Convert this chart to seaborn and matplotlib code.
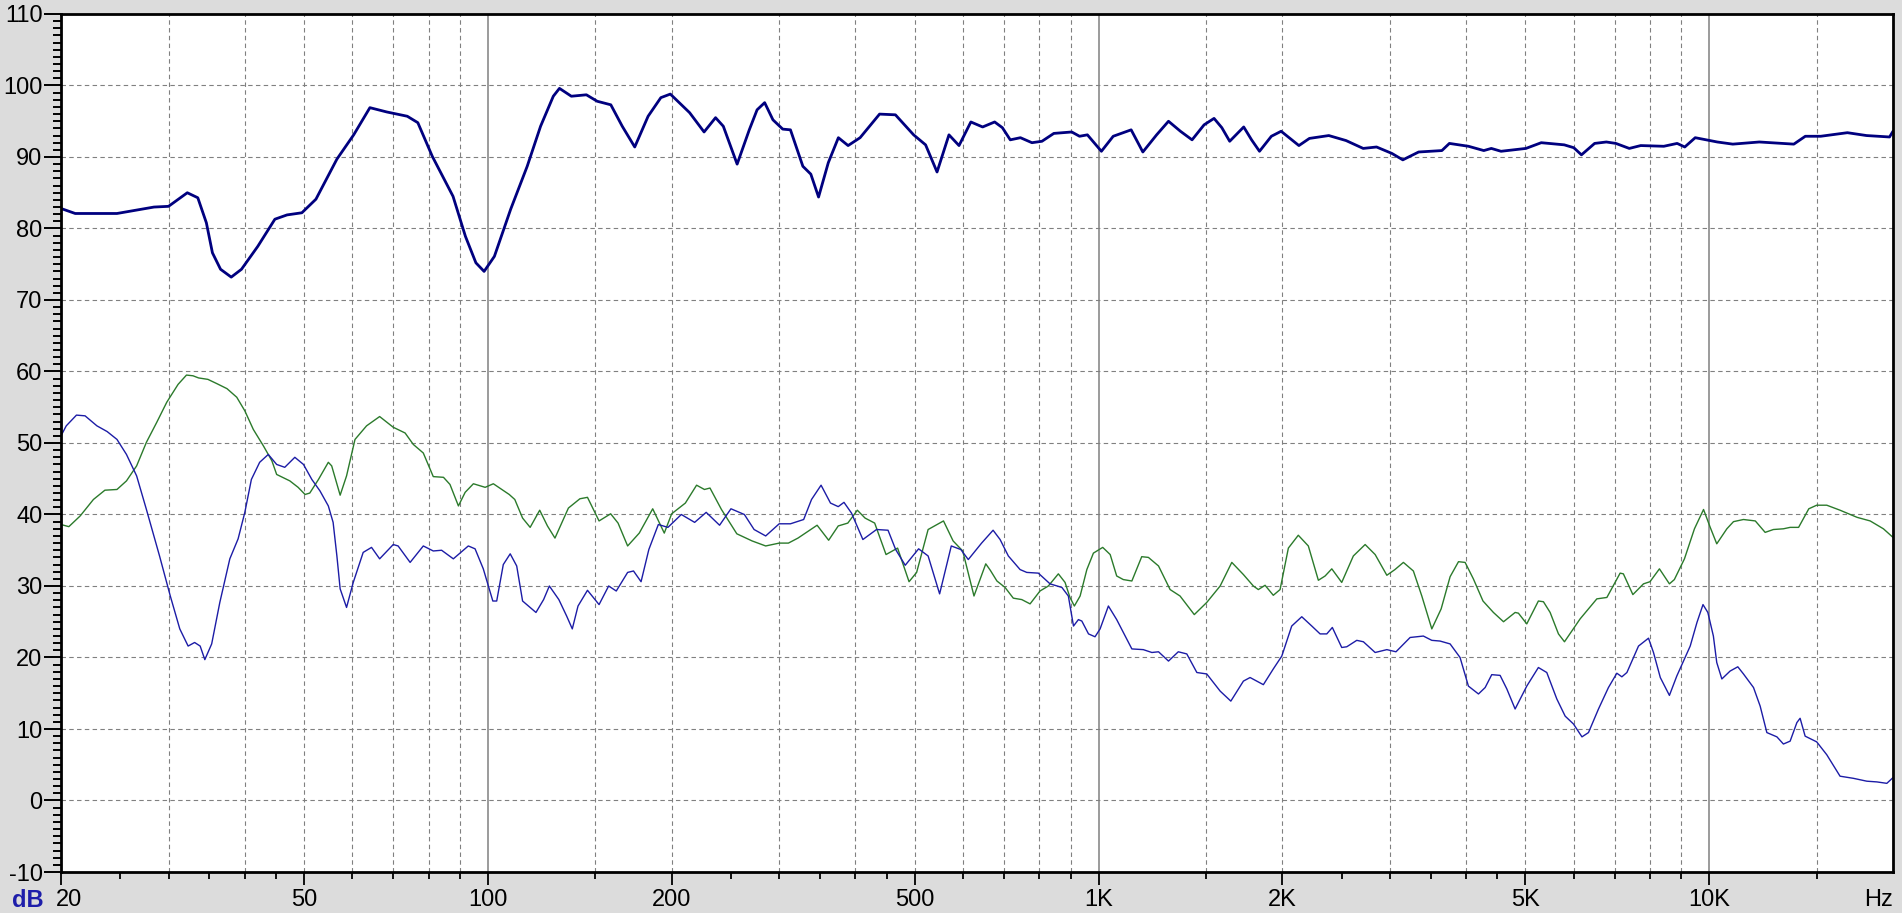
import matplotlib
matplotlib.use("Agg")
import matplotlib.pyplot as plt
import matplotlib.transforms as mtransforms
from matplotlib.ticker import FixedLocator, FixedFormatter, MultipleLocator, NullFormatter
import pandas as pd
import seaborn as sns

# ---------------- data ----------------
freq_top = [20, 21.1, 24.7, 26.7, 28.4, 30.0, 32.2, 33.5, 34.6, 35.4,
            36.5, 38.0, 39.5, 42.0, 44.8, 46.9, 49.6, 52.3, 56.6, 60.3,
            64.1, 68.3, 73.8, 76.8, 81.1, 87.7, 91.9, 95.6, 98.6, 102.5,
            109, 116, 122, 128, 131, 137, 145, 151, 159, 166,
            174, 183, 192, 199, 214, 226, 236, 243, 256, 268,
            276, 284, 293, 304, 313, 328, 338, 348, 361, 375,
            389, 407, 438, 465, 498, 521, 544, 569, 591, 618,
            646, 676, 696, 717, 745, 778, 808, 845, 904, 931,
            959, 1011, 1057, 1131, 1182, 1245, 1302, 1362, 1423, 1489,
            1546, 1592, 1640, 1729, 1781, 1835, 1919, 1991, 2129, 2215,
            2383, 2543, 2713, 2853, 3023, 3150, 3344, 3650, 3755, 4035,
            4275, 4398, 4562, 5011, 5309, 5790, 6002, 6178, 6493, 6786,
            7034, 7399, 7726, 8427, 8862, 9121, 9488, 10310, 10930, 12080,
            13760, 14370, 15230, 16840, 18100, 19740, 20000]
spl_top = [82.8, 82.1, 82.1, 82.6, 83.0, 83.1, 85.0, 84.3, 80.8, 76.6,
           74.3, 73.2, 74.3, 77.5, 81.3, 81.9, 82.2, 84.1, 89.7, 93.1,
           96.9, 96.3, 95.7, 94.8, 90.1, 84.5, 78.9, 75.2, 74.0, 76.1,
           82.7, 88.7, 94.3, 98.5, 99.6, 98.5, 98.7, 97.8, 97.3, 94.3,
           91.4, 95.7, 98.3, 98.8, 96.2, 93.5, 95.5, 94.3, 89.0, 93.8,
           96.6, 97.6, 95.2, 93.9, 93.8, 88.7, 87.6, 84.4, 89.2, 92.7,
           91.6, 92.7, 96.0, 95.9, 93.1, 91.7, 87.9, 93.1, 91.6, 94.9,
           94.2, 94.9, 94.1, 92.4, 92.7, 92.0, 92.2, 93.3, 93.5, 92.9,
           93.1, 90.8, 92.9, 93.8, 90.7, 93.1, 95.0, 93.6, 92.4, 94.5,
           95.4, 94.1, 92.2, 94.2, 92.4, 90.8, 92.9, 93.6, 91.6, 92.6,
           93.0, 92.3, 91.2, 91.4, 90.5, 89.6, 90.7, 90.9, 91.9, 91.5,
           90.9, 91.2, 90.8, 91.2, 92.0, 91.7, 91.3, 90.3, 91.9, 92.1,
           91.9, 91.2, 91.6, 91.5, 91.9, 91.4, 92.7, 92.1, 91.8, 92.1,
           91.8, 92.9, 92.9, 93.4, 93.0, 92.8, 93.6]

freq_blue = [20.0, 20.4, 21.2, 21.9, 22.9, 23.8, 24.7, 25.6, 26.6, 27.6,
             29.0, 30.2, 31.3, 32.3, 33.1, 33.8, 34.4, 35.3, 36.4, 37.8,
             39.0, 40.0, 41.0, 42.3, 43.7, 45.1, 46.5, 48.3, 49.9, 51.5,
             53.1, 54.8, 55.8, 56.6, 57.3, 58.7, 60.2, 62.5, 64.5, 66.5,
             70.0, 71.3, 74.6, 78.4, 81.4, 84.0, 87.8, 92.9, 95.3, 98.3,
             101.9, 103.4, 106, 108.8, 111.5, 114, 119.9, 123.4, 126.1, 130.7,
             134.6, 137.5, 140.5, 145.6, 152.1, 157.7, 162.3, 169.4, 173.2, 178.2,
             183.5, 190.2, 197.2, 207.4, 218.1, 227.8, 239.6, 250.1, 263.1, 272.9,
             285.1, 300, 313, 329, 338.9, 351.3, 364, 374.8, 383, 394,
             411.3, 433, 452.2, 465.4, 482.5, 507.5, 526, 549.3, 574, 595,
             612, 643.5, 672, 690, 711.8, 744, 763, 797, 833, 871,
             892.5, 910, 927, 939, 963, 987, 1006, 1038, 1071, 1134,
             1184, 1223, 1254, 1302, 1351, 1395, 1449, 1504, 1582, 1647,
             1727, 1771, 1862, 1933, 1996, 2072, 2152, 2235, 2306, 2365,
             2415, 2502, 2550, 2648, 2715, 2838, 2966, 3070, 3238, 3404,
             3514, 3625, 3765, 3909, 4034, 4190, 4297, 4405, 4546, 4663,
             4811, 5027, 5252, 5421, 5630, 5810, 5995, 6190, 6344, 6588,
             6840, 7060, 7195, 7333, 7661, 7955, 8106, 8317, 8608, 8850,
             9310, 9550, 9770, 9950, 10160, 10290, 10490, 10820, 11140, 11380,
             11820, 12120, 12430, 12910, 13230, 13570, 13920, 14090, 14360, 15000,
             15580, 16380, 17230, 18120, 18820, 19540, 20000]
spl_blue = [51.0, 52.4, 53.9, 53.8, 52.4, 51.6, 50.5, 48.4, 45.4, 40.7,
            34.2, 28.6, 24.0, 21.6, 22.1, 21.6, 19.7, 21.9, 27.7, 33.8,
            36.6, 40.3, 44.9, 47.3, 48.4, 47.0, 46.6, 48.0, 47.0, 44.9,
            43.3, 41.2, 38.9, 34.2, 29.6, 27.0, 30.5, 34.7, 35.4, 33.8,
            35.8, 35.6, 33.3, 35.6, 34.9, 35.0, 33.8, 35.6, 35.2, 32.4,
            27.9, 27.9, 33.0, 34.5, 32.8, 27.9, 26.3, 28.1, 30.0, 28.1,
            25.8, 24.0, 27.2, 29.4, 27.4, 30.0, 29.3, 31.9, 32.1, 30.6,
            35.1, 38.6, 38.2, 40.0, 38.9, 40.3, 38.5, 40.8, 40.0, 37.9,
            37.0, 38.7, 38.7, 39.3, 42.1, 44.1, 41.6, 41.1, 41.7, 40.2,
            36.5, 37.9, 37.8, 35.1, 32.9, 35.2, 34.2, 28.9, 35.6, 35.1,
            33.7, 36.0, 37.8, 36.5, 34.2, 32.3, 31.9, 31.8, 30.3, 29.8,
            28.6, 24.4, 25.3, 25.1, 23.3, 22.9, 24.0, 27.2, 25.3, 21.2,
            21.1, 20.7, 20.8, 19.5, 20.8, 20.5, 17.9, 17.7, 15.3, 13.9,
            16.7, 17.2, 16.2, 18.4, 20.2, 24.4, 25.7, 24.4, 23.3, 23.3,
            24.2, 21.4, 21.5, 22.4, 22.2, 20.7, 21.1, 20.8, 22.8, 23.0,
            22.4, 22.3, 21.9, 20.0, 16.0, 14.9, 15.8, 17.6, 17.5, 15.6,
            12.8, 16.0, 18.6, 17.9, 14.2, 11.8, 10.7, 8.9, 9.5, 12.8,
            15.8, 17.8, 17.3, 17.9, 21.6, 22.7, 20.7, 17.2, 14.7, 17.4,
            21.6, 24.9, 27.4, 26.3, 23.0, 19.3, 17.0, 18.1, 18.7, 17.7,
            15.8, 13.2, 9.5, 8.9, 7.9, 8.3, 10.9, 11.5, 9.0, 8.2,
            6.4, 3.4, 3.1, 2.7, 2.6, 2.4, 3.2]

freq_green = [20.0, 20.6, 21.5, 22.6, 23.6, 24.7, 25.6, 26.6, 27.6, 28.7,
              29.8, 31.1, 32.1, 32.9, 33.6, 34.8, 36.0, 37.4, 38.8, 40.0,
              41.3, 42.9, 44.3, 45.1, 47.4, 48.9, 50.2, 51.1, 52.8, 54.8,
              55.5, 57.3, 58.7, 60.6, 63.3, 66.5, 70.0, 73.2, 75.5, 78.4,
              81.4, 84.6, 86.7, 89.5, 91.8, 94.7, 99.0, 102.1, 108.4, 110.7,
              114, 117.3, 121.6, 125.2, 128.8, 135.5, 141.5, 145.6, 152.1, 158.9,
              163.4, 169.4, 177, 186.2, 194.5, 200, 210.6, 219.7, 226.3, 231.1,
              241.3, 255.7, 270.9, 285.1, 300, 310.6, 322, 346.1, 361.5, 374.8,
              388.6, 402.8, 414.7, 430, 448.8, 468.8, 489.5, 503.7, 526, 557.4,
              578, 599.3, 625.3, 653.7, 665, 681.8, 703, 725.2, 748.8, 772.6,
              802, 827.7, 859.5, 881.5, 898, 913, 933, 957, 981, 1016,
              1045, 1071, 1098, 1134, 1177, 1207, 1254, 1310, 1360, 1435,
              1504, 1582, 1653, 1727, 1793, 1827, 1874, 1933, 1983, 2046,
              2124, 2206, 2291, 2350, 2410, 2502, 2614, 2733, 2838, 2966,
              3058, 3157, 3278, 3384, 3514, 3640, 3765, 3886, 3984, 4110,
              4262, 4433, 4605, 4811, 4871, 5027, 5252, 5353, 5490, 5665,
              5795, 6147, 6547, 6800, 7148, 7236, 7500, 7806, 8000, 8290,
              8608, 8770, 9110, 9460, 9790, 10040, 10290, 10690, 10960, 11380,
              11900, 12350, 12740, 13230, 13570, 14010, 14560, 15000, 15580, 16380,
              17470, 18350, 19290, 20000]
spl_green = [38.6, 38.3, 39.8, 42.1, 43.4, 43.5, 44.7, 46.8, 50.1, 52.9,
             55.7, 58.2, 59.5, 59.4, 59.1, 58.9, 58.3, 57.6, 56.4, 54.5,
             51.9, 49.6, 47.5, 45.6, 44.7, 43.8, 42.8, 43.0, 44.9, 47.3,
             46.8, 42.7, 45.4, 50.5, 52.4, 53.7, 52.2, 51.4, 49.8, 48.6,
             45.3, 45.2, 44.2, 41.2, 43.1, 44.3, 43.8, 44.3, 42.8, 42.1,
             39.5, 38.2, 40.6, 38.4, 36.7, 40.9, 42.2, 42.4, 39.1, 40.1,
             38.8, 35.6, 37.4, 40.8, 37.4, 40.1, 41.6, 44.1, 43.5, 43.7,
             40.7, 37.3, 36.3, 35.6, 36.0, 36.0, 36.7, 38.5, 36.4, 38.4,
             38.8, 40.6, 39.5, 38.8, 34.4, 35.3, 30.6, 31.9, 37.9, 39.1,
             36.3, 34.9, 28.6, 33.1, 32.2, 30.7, 29.8, 28.3, 28.1, 27.5,
             29.3, 30.0, 31.7, 30.5, 28.4, 27.2, 28.6, 32.3, 34.6, 35.4,
             34.4, 31.4, 30.9, 30.7, 34.1, 34.0, 32.8, 29.5, 28.6, 26.0,
             27.7, 30.0, 33.3, 31.6, 30.0, 29.5, 30.1, 28.7, 29.5, 35.3,
             37.1, 35.6, 30.8, 31.4, 32.4, 30.5, 34.2, 35.8, 34.4, 31.5,
             32.3, 33.3, 32.1, 28.6, 24.0, 26.8, 31.3, 33.4, 33.3, 31.0,
             27.9, 26.3, 25.0, 26.3, 26.2, 24.7, 27.9, 27.8, 26.3, 23.3,
             22.2, 25.4, 28.2, 28.4, 31.8, 31.7, 28.8, 30.3, 30.6, 32.4,
             30.3, 30.9, 33.8, 38.0, 40.7, 38.2, 35.9, 38.0, 39.0, 39.3,
             39.1, 37.5, 37.9, 38.0, 38.2, 38.2, 40.8, 41.3, 41.3, 40.6,
             39.6, 39.1, 38.0, 36.8]

x_tick_values = [20, 50, 100, 200, 500, 1000, 2000, 5000, 10000]
x_tick_labels = ["20", "50", "100", "200", "500", "1K", "2K", "5K", "10K"]
x_minor_ticks = [25, 30, 35, 40, 45, 60, 70, 80, 90,
                 150, 250, 300, 350, 400, 450, 600, 700, 800, 900,
                 1500, 2500, 3000, 3500, 4000, 4500, 6000, 7000, 8000, 9000,
                 15000]
x_dashed_grid = [30, 40, 50, 60, 70, 80, 90,
                 150, 200, 300, 400, 500, 600, 700, 800, 900,
                 1500, 2000, 3000, 4000, 5000, 6000, 7000, 8000, 9000,
                 15000]
x_solid_grid = [100, 1000, 10000]
y_tick_values = [-10, 0, 10, 20, 30, 40, 50, 60, 70, 80, 90, 100, 110]
y_tick_labels = ["-10", "0", "10", "20", "30", "40", "50", "60", "70", "80", "90", "100", "110"]
y_dashed_grid = [0, 10, 20, 30, 40, 50, 60, 70, 80, 90, 100]

# ---------------- style ----------------
sns.set_style("white")
plt.rcParams["font.family"] = ["Liberation Sans", "DejaVu Sans"]
plt.rcParams["axes.unicode_minus"] = False

FS = 17
BG = "#dcdcdc"
fig = plt.figure(figsize=(19.02, 9.13), dpi=100, facecolor=BG)
ax = fig.add_axes([61 / 1902, 1 - 872 / 913, (1893 - 61) / 1902, (872 - 14) / 913])
ax.set_facecolor("white")
ax.set_xscale("log")

grid_col = "#808080"
for f in x_dashed_grid:
    ax.axvline(f, color=grid_col, lw=0.8, ls=(0, (4, 3)), zorder=1)
for f in x_solid_grid:
    ax.axvline(f, color=grid_col, lw=1.1, ls="-", zorder=1)
for v in y_dashed_grid:
    ax.axhline(v, color=grid_col, lw=0.8, ls=(0, (4, 3)), zorder=1)

df_top = pd.DataFrame({"freq": freq_top, "spl": spl_top})
df_blue = pd.DataFrame({"freq": freq_blue, "spl": spl_blue})
df_green = pd.DataFrame({"freq": freq_green, "spl": spl_green})

sns.lineplot(data=df_green, x="freq", y="spl", ax=ax, color="#2b7a2b",
             linewidth=1.0, estimator=None, legend=False, zorder=2)
sns.lineplot(data=df_blue, x="freq", y="spl", ax=ax, color="#1c1ca6",
             linewidth=1.0, estimator=None, legend=False, zorder=2.1)
sns.lineplot(data=df_top, x="freq", y="spl", ax=ax, color="#00007f",
             linewidth=2.0, estimator=None, legend=False, zorder=2.2)

ax.set_xlim(20, 20000)
ax.set_ylim(-10, 110)
ax.set_xlabel("")
ax.set_ylabel("")

ax.xaxis.set_major_locator(FixedLocator(x_tick_values))
ax.xaxis.set_major_formatter(FixedFormatter(x_tick_labels))
ax.xaxis.set_minor_locator(FixedLocator(x_minor_ticks))
ax.xaxis.set_minor_formatter(NullFormatter())
ax.yaxis.set_major_locator(FixedLocator(y_tick_values))
ax.yaxis.set_major_formatter(FixedFormatter(y_tick_labels))
ax.yaxis.set_minor_locator(MultipleLocator(1))

ax.tick_params(axis="x", which="major", direction="out", length=9.5, width=1.3,
               color="black", pad=2.5, labelsize=FS, labelcolor="black", bottom=True)
ax.tick_params(axis="x", which="minor", direction="out", length=4.8, width=1.3,
               color="black", bottom=True)
ax.tick_params(axis="y", which="major", direction="out", length=12.3, width=1.4,
               color="black", pad=1.0, labelsize=FS, labelcolor="black", left=True)
ax.tick_params(axis="y", which="minor", direction="out", length=5.8, width=1.4,
               color="black", left=True)
for lbl in ax.get_xticklabels() + ax.get_yticklabels():
    lbl.set_fontsize(FS)

for sp in ax.spines.values():
    sp.set_visible(True)
    sp.set_color("black")
    sp.set_linewidth(2.0)

# shift the first x label ("20") right, as in the reference
fig.canvas.draw()
first_lbl = ax.get_xticklabels()[0]
first_lbl.set_transform(first_lbl.get_transform() +
                        mtransforms.ScaledTranslation(8 / 100, 0, fig.dpi_scale_trans))

ax.annotate("Hz", xy=(1, 0), xycoords="axes fraction", xytext=(0, -12.0),
            textcoords="offset points", ha="right", va="top", fontsize=FS, color="black")
ax.annotate("dB", xy=(0, 0), xycoords="axes fraction", xytext=(-35.5, -12.0),
            textcoords="offset points", ha="left", va="top", fontsize=FS,
            fontweight="bold", color="#1e1eaa")

fig.savefig("out.png", dpi=100, facecolor=BG)
